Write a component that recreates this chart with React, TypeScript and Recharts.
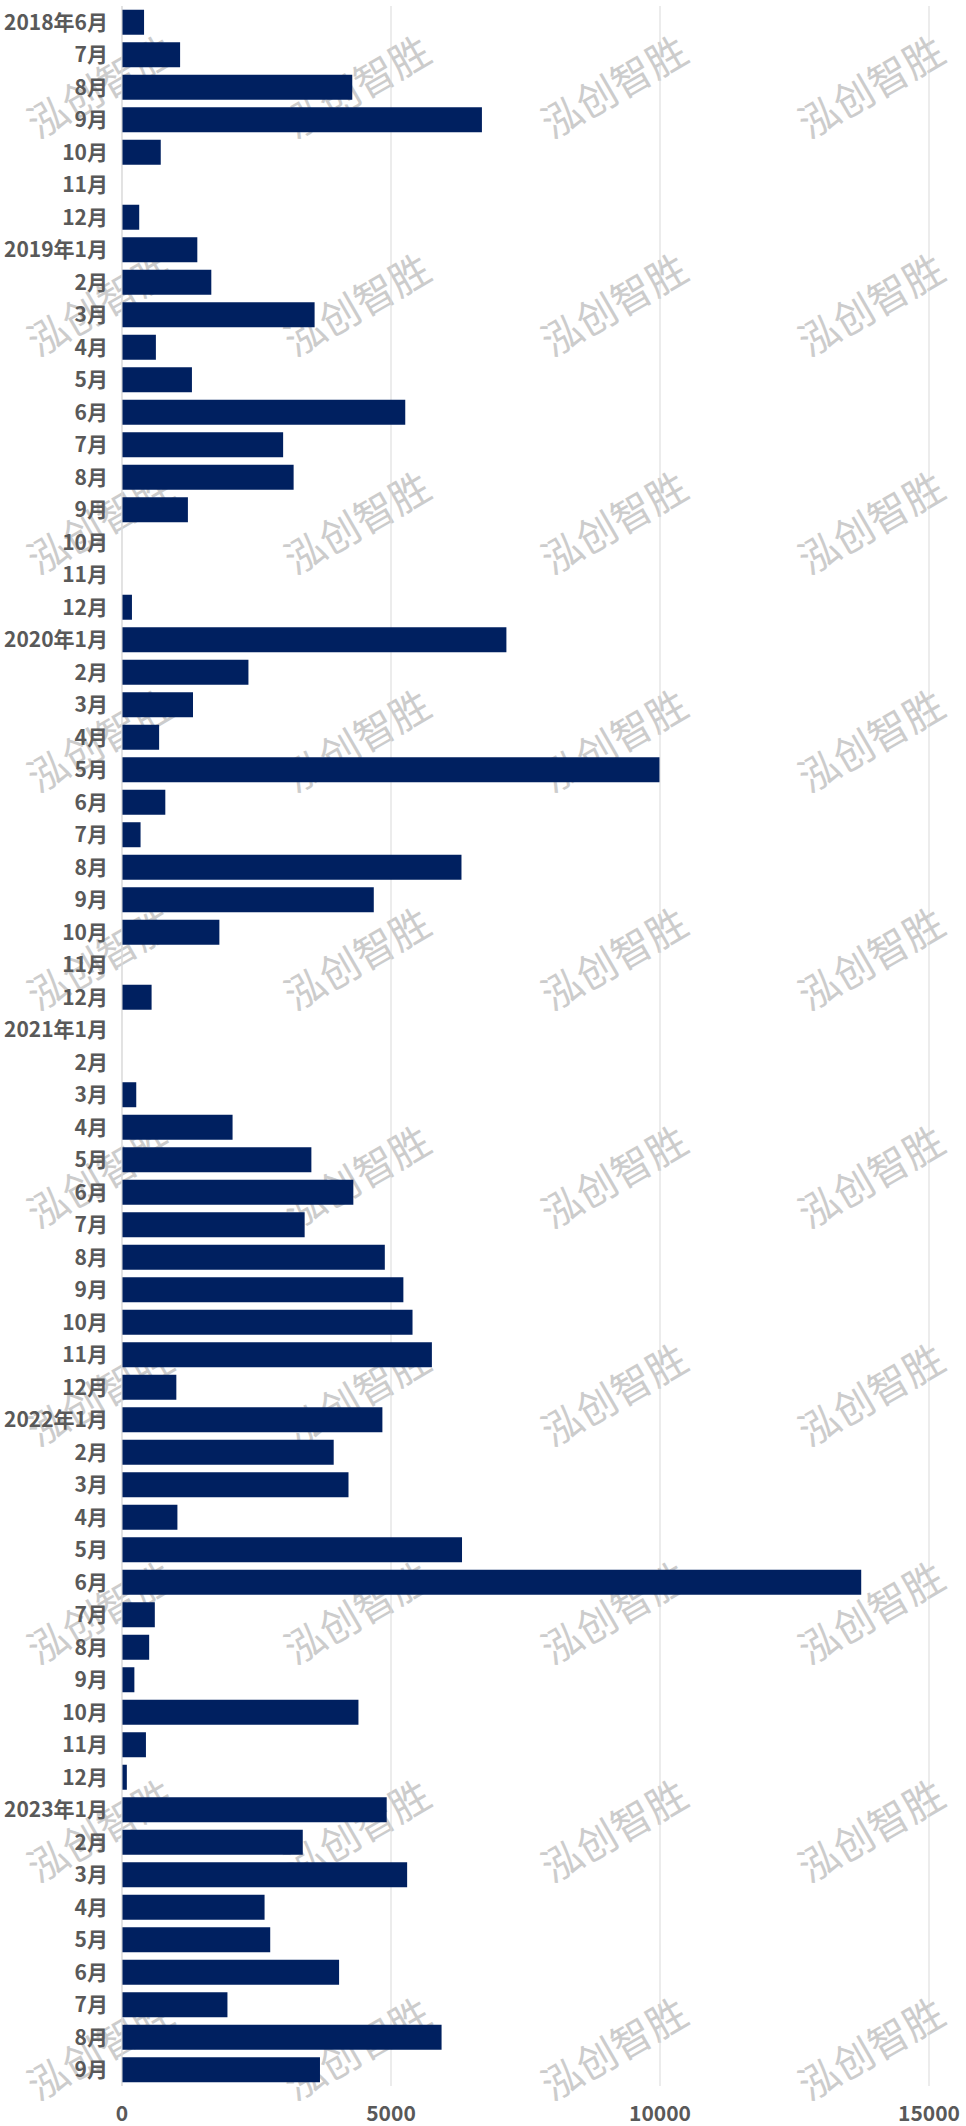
import { BarChart, Bar, XAxis, YAxis, CartesianGrid } from "recharts";

// month labels, one per bar (top to bottom)
const labels = [
    "2018年6月", "7月", "8月", "9月", "10月", "11月", "12月",
    "2019年1月", "2月", "3月", "4月", "5月", "6月", "7月", "8月", "9月", "10月", "11月", "12月",
    "2020年1月", "2月", "3月", "4月", "5月", "6月", "7月", "8月", "9月", "10月", "11月", "12月",
    "2021年1月", "2月", "3月", "4月", "5月", "6月", "7月", "8月", "9月", "10月", "11月", "12月",
    "2022年1月", "2月", "3月", "4月", "5月", "6月", "7月", "8月", "9月", "10月", "11月", "12月",
    "2023年1月", "2月", "3月", "4月", "5月", "6月", "7月", "8月", "9月",
];

// values per year
const values2018 = [410, 1080, 4280, 6690, 720, 0, 320];
const values2019 = [1400, 1660, 3580, 630, 1300, 5265, 2995, 3190, 1225, 0, 0, 185];
const values2020 = [7145, 2350, 1320, 690, 9990, 805, 345, 6310, 4680, 1810, 0, 550];
const values2021 = [0, 0, 265, 2055, 3520, 4300, 3395, 4885, 5230, 5400, 5760, 1010];
const values2022 = [4840, 3935, 4210, 1030, 6320, 13740, 610, 505, 230, 4395, 445, 90];
const values2023 = [4920, 3360, 5300, 2650, 2755, 4035, 1960, 5940, 3680];

const xTicks = [0, 5000, 10000, 15000];

const watermarkText = "泓创智胜";
const watermarkCols = [99, 356, 613, 870];
const watermarkRows = [85, 303, 521, 739, 957, 1175, 1393, 1611, 1829, 2047];

const W = 966;
const H = 2126;

const allValues = [
    ...values2018,
    ...values2019,
    ...values2020,
    ...values2021,
    ...values2022,
    ...values2023,
];

const chartData = labels.map((label, i) => ({ label, value: allValues[i] }));

const tickStyle = {
    fill: "#595959",
    fontSize: 21,
    fontWeight: 700,
    fontFamily: "'Noto Sans CJK SC', 'Noto Sans', sans-serif",
};

function Watermark() {
    return (
        <svg
            width={W}
            height={H}
            style={{ position: "absolute", left: 0, top: 0 }}
        >
            {watermarkRows.map(y =>
                watermarkCols.map(x => (
                    <text
                        key={`${x}-${y}`}
                        x={x}
                        y={y}
                        transform={`rotate(-30 ${x} ${y})`}
                        textAnchor="middle"
                        dominantBaseline="central"
                        fontSize={40}
                        fontFamily="'Noto Sans CJK SC', sans-serif"
                        fill="#cccccc"
                    >
                        {watermarkText}
                    </text>
                ))
            )}
        </svg>
    );
}

export default function App() {
    return (
        <div style={{ position: "relative", width: W, height: H, background: "#ffffff" }}>
            <style>{`body { margin: 0; }`}</style>
            <Watermark />
            <div style={{ position: "absolute", left: 0, top: 0 }}>
                <BarChart
                    width={W}
                    height={H}
                    data={chartData}
                    layout="vertical"
                    margin={{ top: 6, right: 37, left: 0, bottom: 0 }}
                    barCategoryGap="11.5%"
                >
                    <CartesianGrid
                        horizontal={false}
                        stroke="#d9d9d9"
                        strokeWidth={1}
                    />
                    <XAxis
                        type="number"
                        domain={[0, 15000]}
                        ticks={xTicks}
                        interval={0}
                        axisLine={false}
                        tickLine={false}
                        tickMargin={14}
                        height={40}
                        tick={tickStyle}
                    />
                    <YAxis
                        type="category"
                        dataKey="label"
                        width={122}
                        interval={0}
                        axisLine={{ stroke: "#d9d9d9" }}
                        tickLine={false}
                        tickMargin={8}
                        tick={tickStyle}
                    />
                    <Bar
                        dataKey="value"
                        fill="#002060"
                        isAnimationActive={false}
                    />
                </BarChart>
            </div>
        </div>
    );
}
